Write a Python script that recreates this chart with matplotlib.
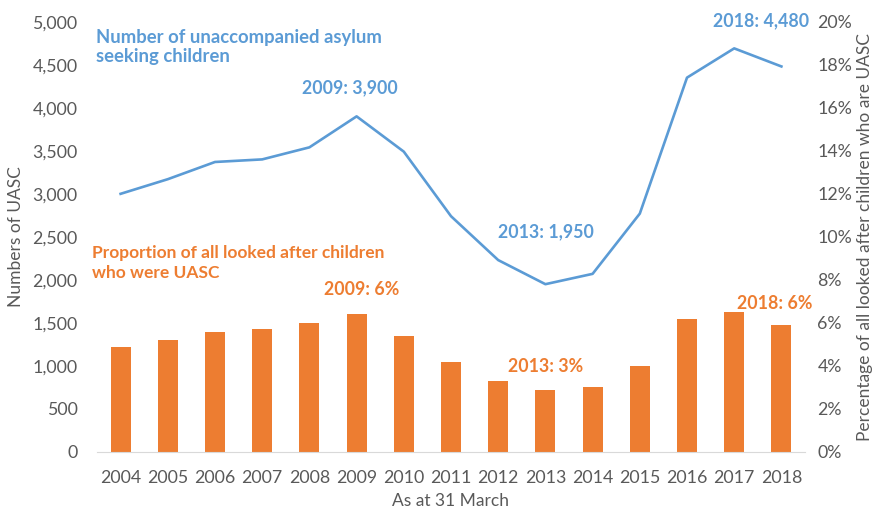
import matplotlib
matplotlib.use("Agg")
import matplotlib.pyplot as plt
import numpy as np

years = ["2004", "2005", "2006", "2007", "2008", "2009", "2010", "2011",
         "2012", "2013", "2014", "2015", "2016", "2017", "2018"]
uasc_counts = [3000, 3170, 3370, 3400, 3540, 3900, 3490, 2740, 2230, 1950,
               2070, 2770, 4350, 4690, 4480]
uasc_pct = [4.9, 5.2, 5.6, 5.7, 6.0, 6.4, 5.4, 4.2, 3.3, 2.9, 3.0, 4.0,
            6.2, 6.5, 5.9]
left_ticks = [0, 500, 1000, 1500, 2000, 2500, 3000, 3500, 4000, 4500, 5000]
right_ticks = [0, 2, 4, 6, 8, 10, 12, 14, 16, 18, 20]

BLUE = "#5B9BD5"
ORANGE = "#ED7D31"
GREY = "#595959"

plt.rcParams['font.family'] = ['Lato', 'DejaVu Sans']

fig = plt.figure(figsize=(8.76, 5.14), dpi=100)
ax = fig.add_axes([97/876, 1 - 452/514, (805-97)/876, (452-21.7)/514])
ax2 = ax.twinx()

x = np.arange(len(years))
ax2.bar(x, uasc_pct, width=0.42, color=ORANGE, zorder=2)
ax.plot(x, uasc_counts, color=BLUE, lw=1.9, zorder=3)

ax.set_zorder(ax2.get_zorder() + 1)
ax.patch.set_visible(False)

ax.set_xlim(-0.5, len(years) - 0.5)
ax.set_ylim(0, 5000)
ax2.set_ylim(0, 20)
ax.set_yticks(left_ticks)
ax.set_yticklabels([f"{v:,}" for v in left_ticks])
ax2.set_yticks(right_ticks)
ax2.set_yticklabels([f"{v}%" for v in right_ticks])
ax.set_xticks(x)
ax.set_xticklabels(years)

for a in (ax, ax2):
    for s in a.spines.values():
        s.set_visible(False)
    a.tick_params(length=0, colors=GREY, labelsize=12.8)
ax.spines['bottom'].set_visible(True)
ax.spines['bottom'].set_color("#D9D9D9")
ax.tick_params(axis='y', pad=14)
ax.tick_params(axis='x', pad=13)
ax2.tick_params(axis='y', pad=9)

ax.set_xlabel("As at 31 March", color=GREY, fontsize=12.5, labelpad=5)
ax.set_ylabel("Numbers of UASC", color=GREY, fontsize=12.5, labelpad=6)
ax2.set_ylabel("Percentage of all looked after children who are UASC",
               color=GREY, fontsize=12.5, labelpad=3)

ax.text(-0.52, 4920, "Number of unaccompanied asylum\nseeking children",
        color=BLUE, fontsize=13.3, fontweight='bold', ha='left', va='top',
        linespacing=1.2)
ax.text(4.86, 4230, "2009: 3,900", color=BLUE, fontsize=12.8,
        fontweight='bold', ha='center', va='center')
ax.text(9.01, 2560, "2013: 1,950", color=BLUE, fontsize=12.8,
        fontweight='bold', ha='center', va='center')
ax.text(13.57, 5010, "2018: 4,480", color=BLUE, fontsize=12.8,
        fontweight='bold', ha='center', va='center')

ax.text(-0.6, 2400, "Proportion of all looked after children\nwho were UASC",
        color=ORANGE, fontsize=12.5, fontweight='bold', ha='left', va='top',
        linespacing=1.25)
ax.text(5.11, 1890, "2009: 6%", color=ORANGE, fontsize=12.8,
        fontweight='bold', ha='center', va='center')
ax.text(9.0, 990, "2013: 3%", color=ORANGE, fontsize=12.8,
        fontweight='bold', ha='center', va='center')
ax.text(13.86, 1730, "2018: 6%", color=ORANGE, fontsize=12.8,
        fontweight='bold', ha='center', va='center')

fig.savefig("out.png", dpi=100)
